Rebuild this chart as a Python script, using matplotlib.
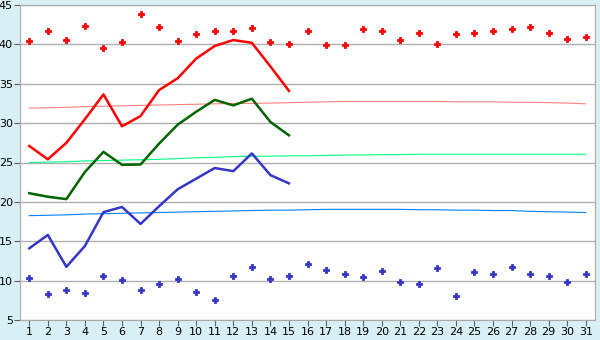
import matplotlib.pyplot as plt

days = list(range(1, 32))

# daily max / min records (points)
rec_max = [40.4, 41.65, 40.5, 42.3, 39.6, 40.3, 43.8, 42.2, 40.4, 41.3,
           41.65, 41.65, 42.05, 40.3, 40.0, 41.65, 39.9, 39.9, 41.9, 41.65,
           40.5, 41.5, 40.1, 41.3, 41.4, 41.65, 41.9, 42.2, 41.5, 40.65, 41.0]
rec_min = [10.3, 8.25, 8.75, 8.4, 10.65, 10.05, 8.75, 9.55, 10.15, 8.5,
           7.5, 10.65, 11.7, 10.15, 10.65, 12.05, 11.3, 10.8, 10.4, 11.2,
           9.8, 9.55, 11.55, 8.1, 11.05, 10.9, 11.7, 10.9, 10.55, 9.8, 10.9]

# observed values for the first half of the month
obs_days = days[:15]
obs_max = [27.1, 25.4, 27.5, 30.5, 33.65, 29.6, 30.9, 34.2, 35.7, 38.2,
           39.8, 40.55, 40.2, 37.2, 34.1]
obs_avg = [21.1, 20.65, 20.35, 23.8, 26.35, 24.7, 24.75, 27.4, 29.8, 31.45,
           32.95, 32.25, 33.1, 30.15, 28.45]
obs_min = [14.1, 15.8, 11.75, 14.4, 18.7, 19.35, 17.2, 19.45, 21.6, 22.95,
           24.3, 23.9, 26.15, 23.4, 22.35]

# normals
norm_max = [31.9, 31.95, 32.0, 32.1, 32.15, 32.2, 32.25, 32.3, 32.35, 32.4,
            32.45, 32.5, 32.5, 32.55, 32.6, 32.65, 32.7, 32.75, 32.75, 32.75,
            32.75, 32.75, 32.75, 32.7, 32.7, 32.7, 32.65, 32.65, 32.6, 32.55, 32.45]
norm_avg = [25.0, 25.05, 25.1, 25.2, 25.25, 25.3, 25.35, 25.4, 25.5, 25.6,
            25.65, 25.75, 25.8, 25.8, 25.85, 25.85, 25.9, 25.95, 25.95, 26.0,
            26.0, 26.05, 26.05, 26.05, 26.05, 26.05, 26.05, 26.05, 26.05, 26.05, 26.05]
norm_min = [18.25, 18.3, 18.35, 18.45, 18.5, 18.55, 18.6, 18.65, 18.7, 18.75,
            18.8, 18.85, 18.9, 18.95, 18.95, 19.0, 19.05, 19.05, 19.05, 19.05,
            19.05, 19.0, 19.0, 18.95, 18.95, 18.9, 18.9, 18.8, 18.75, 18.7, 18.65]

fig = plt.figure(figsize=(6, 3.4), dpi=100, facecolor='#d9eff6')
ax = fig.add_axes([20 / 600, 20 / 340, 575 / 600, 315 / 340])
ax.set_facecolor('white')

ax.plot(days, norm_max, color='#ff8080', lw=0.8)
ax.plot(days, norm_avg, color='#00ff80', lw=0.8)
ax.plot(days, norm_min, color='#0080ff', lw=0.8)

ax.plot(obs_days, obs_max, color='#ff0000', lw=1.8)
ax.plot(obs_days, obs_avg, color='#006400', lw=1.8)
ax.plot(obs_days, obs_min, color='#3535c8', lw=1.8)

ax.plot(days, rec_max, ls='none', marker='P', ms=5, color='#ff0000', mew=0.6)
ax.plot(days, rec_min, ls='none', marker='P', ms=5, color='#3535c8', mew=0.6)

ax.set_xlim(0.5, 31.5)
ax.set_ylim(5, 45)
ax.set_xticks(days)
ax.set_yticks(range(5, 50, 5))
ax.yaxis.grid(True, color='#b0b0b0', lw=1)
ax.set_axisbelow(True)
for s in ax.spines.values():
    s.set_color('#a8a8a8')
ax.tick_params(axis='both', labelsize=8, length=4, color='#606060', pad=1)

fig.savefig('out.png', dpi=100, facecolor=fig.get_facecolor())
